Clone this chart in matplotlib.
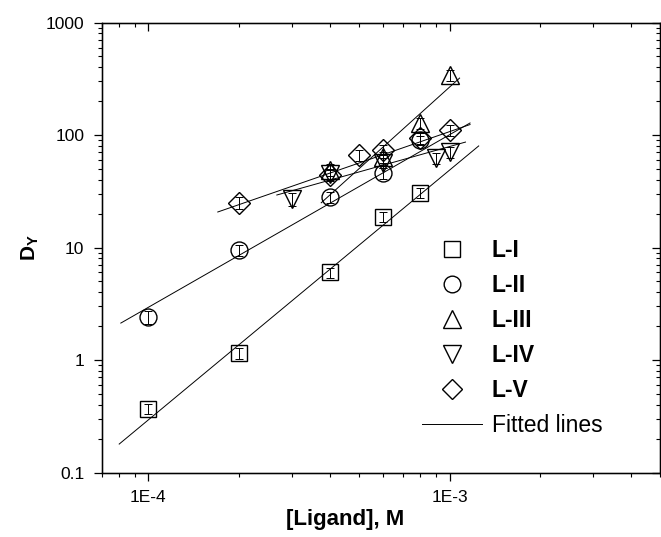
import numpy as np
import matplotlib
matplotlib.use("Agg")
import matplotlib.pyplot as plt
from matplotlib import ticker
from matplotlib.lines import Line2D

plt.rcParams['font.family'] = ['Liberation Sans', 'DejaVu Sans']
plt.rcParams['mathtext.fontset'] = 'custom'
plt.rcParams['mathtext.rm'] = 'Liberation Sans'
plt.rcParams['mathtext.bf'] = 'Liberation Sans:bold'

# distribution ratios vs ligand concentration
names = ['L-I', 'L-II', 'L-III', 'L-IV', 'L-V']
markers = ['s', 'o', '^', 'v', 'D']
msizes = [11.5, 12.2, 13.5, 13.5, 11.2]
leg_sizes = [11, 12, 13, 13, 10.2]

x_I = [1e-4, 2e-4, 4e-4, 6e-4, 8e-4]
y_I = [0.37, 1.15, 6.0, 18.7, 30.5]
e_I = [0.04, 0.12, 0.6, 1.9, 3.0]

x_II = [1e-4, 2e-4, 4e-4, 6e-4, 8e-4]
y_II = [2.4, 9.5, 28, 46, 90]
e_II = [0.33, 1.1, 3.2, 5.0, 9.0]

x_III = [4e-4, 6e-4, 8e-4, 1e-3]
y_III = [49, 64, 128, 340]
e_III = [6, 7, 14, 36]

x_IV = [3e-4, 4e-4, 6e-4, 9e-4, 1e-3]
y_IV = [27, 45, 57, 62, 71]
e_IV = [3.5, 5, 6, 7, 8]

x_V = [2e-4, 4e-4, 5e-4, 6e-4, 8e-4, 1e-3]
y_V = [25, 44, 66, 74, 94, 110]
e_V = [3, 5, 7, 8, 10, 12]

# fitted lines: start/end concentration and D values
fit_x0 = [8.0e-5, 8.1e-5, 3.75e-4, 2.67e-4, 1.70e-4]
fit_x1 = [1.25e-3, 1.17e-3, 1.08e-3, 1.13e-3, 1.17e-3]
fit_y0 = [0.179, 2.13, 25, 29.3, 20.7]
fit_y1 = [80, 128, 321, 86.6, 124]

xs = [x_I, x_II, x_III, x_IV, x_V]
ys = [y_I, y_II, y_III, y_IV, y_V]
es = [e_I, e_II, e_III, e_IV, e_V]

fig = plt.figure(figsize=(6.61, 5.37), dpi=100)
ax = fig.add_axes([0.1539, 0.1201, 0.8446, 0.8379])
ax.set_xscale('log')
ax.set_yscale('log')

for i in range(5):
    ax.plot([fit_x0[i], fit_x1[i]], [fit_y0[i], fit_y1[i]], color='k', lw=0.7)

for i in range(5):
    ax.errorbar(xs[i], ys[i], yerr=es[i], fmt='none', ecolor='k',
                elinewidth=0.7, capsize=2.8, capthick=0.7)
    ax.plot(xs[i], ys[i], ls='none', marker=markers[i], ms=msizes[i],
            mfc='none', mec='k', mew=1.0)

ax.set_xlim(7e-5, 5e-3)
ax.set_ylim(0.1, 1000)

ax.xaxis.set_major_locator(ticker.FixedLocator([1e-4, 1e-3]))
ax.xaxis.set_major_formatter(ticker.FixedFormatter(['1E-4', '1E-3']))
ax.xaxis.set_minor_locator(ticker.LogLocator(base=10, subs=np.arange(2, 10)))
ax.xaxis.set_minor_formatter(ticker.NullFormatter())
ax.yaxis.set_major_locator(ticker.FixedLocator([0.1, 1, 10, 100, 1000]))
ax.yaxis.set_major_formatter(ticker.FixedFormatter(['0.1', '1', '10', '100', '1000']))
ax.yaxis.set_minor_locator(ticker.LogLocator(base=10, subs=np.arange(2, 10)))
ax.yaxis.set_minor_formatter(ticker.NullFormatter())

ax.tick_params(which='major', direction='out', length=5.5, width=0.9, labelsize=12.5, pad=7)
ax.tick_params(which='minor', direction='out', length=3, width=0.8)
for s in ax.spines.values():
    s.set_linewidth(1.0)

# mirrored ticks on top and right, pointing inward
axt = ax.twiny()
axt.set_xscale('log')
axt.set_xlim(ax.get_xlim())
axt.xaxis.set_major_locator(ticker.FixedLocator([1e-4, 1e-3]))
axt.xaxis.set_minor_locator(ticker.LogLocator(base=10, subs=np.arange(2, 10)))
axt.xaxis.set_minor_formatter(ticker.NullFormatter())
axt.tick_params(which='major', direction='in', length=5.5, width=0.9, labeltop=False)
axt.tick_params(which='minor', direction='in', length=3, width=0.8)

axr = ax.twinx()
axr.set_yscale('log')
axr.set_ylim(ax.get_ylim())
axr.yaxis.set_major_locator(ticker.FixedLocator([0.1, 1, 10, 100, 1000]))
axr.yaxis.set_minor_locator(ticker.LogLocator(base=10, subs=np.arange(2, 10)))
axr.yaxis.set_minor_formatter(ticker.NullFormatter())
axr.tick_params(which='major', direction='in', length=5.5, width=0.9, labelright=False)
axr.tick_params(which='minor', direction='in', length=3, width=0.8)

ax.set_xlabel('[Ligand], M', fontsize=16, fontweight='bold')
ax.xaxis.set_label_coords(0.436, -0.08)
ax.set_ylabel(r'D$_\mathbf{Y}$', fontsize=15, fontweight='bold')
ax.yaxis.set_label_coords(-0.108, 0.5)

handles = []
for i in range(5):
    handles.append(Line2D([], [], ls='none', marker=markers[i], ms=leg_sizes[i],
                          mfc='none', mec='k', mew=1.0, label=names[i]))
handles.append(Line2D([], [], color='k', lw=0.7, label='Fitted lines'))
leg = ax.legend(handles=handles, loc='upper left', bbox_to_anchor=(0.5737, 0.519),
                frameon=False, fontsize=16.5, handlelength=2.6, handletextpad=0.44,
                labelspacing=0.52, borderpad=0, borderaxespad=0)
for t in leg.get_texts()[:5]:
    t.set_fontweight('bold')

fig.savefig('out.png', dpi=100)
